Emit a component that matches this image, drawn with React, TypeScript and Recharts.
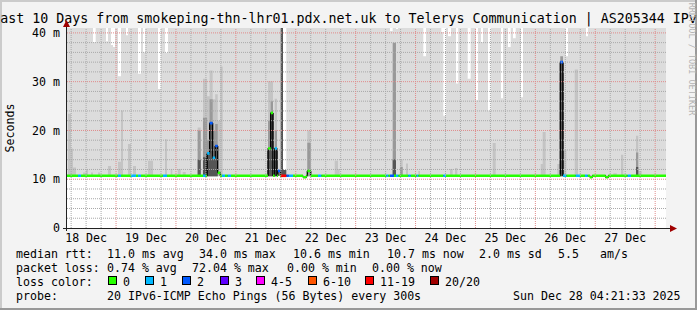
import React from "react";
import { ComposedChart, Area, XAxis, YAxis, CartesianGrid, ReferenceLine } from "recharts";

const FONT = "'DejaVu Sans Mono', monospace";

// time in days since 18 Dec 00:00, graph covers 18 Dec 04:21 -> 28 Dec 04:21
const startDay = 0.181;
const endDay = 10.181;
const dayLabels = ["18 Dec", "19 Dec", "20 Dec", "21 Dec", "22 Dec", "23 Dec", "24 Dec", "25 Dec", "26 Dec", "27 Dec"];
const yTicks = [0, 10, 20, 30, 40];

const minRtt = 10.6;
const usualMedian = 10.7;
const offScale = 41; // max ping above the top of the graph

// [from, to, ms] : where the slowest ping stayed below the top
const maxPingDips: [number, number, number][] = [
  [0.615, 0.66, 38.1], [0.832, 0.865, 38.3], [0.916, 0.949, 37.5], [0.949, 0.982, 37.1],
  [1.032, 1.083, 31.1], [1.166, 1.199, 39.5], [1.366, 1.416, 31.6], [1.45, 1.488, 36.0],
  [1.7, 1.745, 28.5], [1.817, 1.867, 35.9], [3.787, 3.842, 11.9], [5.573, 5.618, 40.4],
  [5.673, 5.707, 40.8], [6.129, 6.174, 35.2], [6.43, 6.463, 40.2], [6.463, 6.508, 23.0],
  [6.542, 6.592, 39.3], [6.675, 6.713, 29.6], [6.87, 6.92, 30.6], [7.009, 7.042, 26.2],
  [7.092, 7.126, 38.1], [7.209, 7.254, 24.1], [7.426, 7.46, 26.6], [7.543, 7.588, 37.1],
  [7.627, 7.672, 38.9], [7.76, 7.794, 26.8], [8.506, 8.545, 35.2], [8.845, 8.878, 39.3],
];

// smoke bands, [from, to, ms]
const smokeMid: [number, number, number][] = [
  [0.198, 0.248, 23.4], [0.248, 0.281, 16.3], [0.281, 0.331, 12.4], [0.448, 0.498, 11.4],
  [0.498, 0.532, 12.0], [0.582, 0.615, 11.4], [0.699, 0.732, 11.4], [0.865, 0.916, 12.7],
  [1.032, 1.083, 13.6], [1.083, 1.116, 24.1], [1.199, 1.249, 17.2], [1.283, 1.333, 12.7],
  [1.533, 1.617, 13.8], [1.817, 1.85, 18.2], [1.912, 1.939, 12.1], [2.029, 2.079, 12.1],
  [2.112, 2.163, 11.5], [2.363, 2.413, 20.6], [2.451, 2.52, 30.6], [2.52, 2.562, 27.0],
  [2.562, 2.613, 32.3], [2.613, 2.655, 26.4], [2.655, 2.697, 27.4], [2.697, 2.74, 22.0],
  [2.74, 2.78, 33.1], [3.537, 3.62, 30.1], [3.648, 3.687, 26.5], [4.193, 4.25, 20.0],
  [4.65, 4.705, 13.8], [4.705, 4.734, 12.1], [5.74, 5.785, 14.1], [5.84, 5.874, 13.2],
  [6.046, 6.074, 11.7], [6.575, 6.62, 12.1], [6.658, 6.697, 12.3], [7.288, 7.338, 17.4],
  [8.089, 8.122, 13.1], [8.122, 8.172, 19.7], [8.366, 8.416, 13.1], [8.461, 8.517, 16.1],
  [8.657, 8.712, 32.5], [9.301, 9.358, 11.2], [9.43, 9.468, 15.0], [9.68, 9.718, 18.9],
  [9.718, 9.775, 11.7],
];

const smokeDark: [number, number, number][] = [
  [2.363, 2.413, 20.0], [2.451, 2.52, 22.6], [2.52, 2.562, 18.0], [2.562, 2.613, 26.4],
  [2.613, 2.655, 20.0], [2.655, 2.697, 21.3], [3.537, 3.582, 22.0], [3.582, 3.62, 26.0],
  [3.648, 3.687, 20.0], [4.193, 4.25, 17.5], [5.618, 5.673, 38.0], [5.74, 5.785, 12.5],
  [8.416, 8.461, 35.2], [9.68, 9.718, 15.5],
];

const smokeDeep: [number, number, number][] = [
  [2.363, 2.413, 14.0], [2.451, 2.52, 14.5], [2.52, 2.562, 15.3], [2.562, 2.613, 21.5],
  [2.613, 2.655, 14.4], [2.655, 2.697, 16.8], [3.537, 3.582, 16.3], [3.582, 3.62, 23.6],
  [3.648, 3.687, 16.3], [3.749, 3.787, 41], [3.787, 3.842, 11.9], [5.618, 5.673, 14.1],
  [8.416, 8.461, 34.0], [9.68, 9.718, 12.5],
];

// median rtt where it left the usual 10.7 ms
const medianSteps: [number, number, number][] = [
  [2.52, 2.562, 15.3], [2.562, 2.613, 21.5], [2.613, 2.655, 14.4], [2.655, 2.697, 16.8],
  [2.697, 2.74, 11.3], [3.537, 3.582, 16.3], [3.582, 3.62, 23.6], [3.648, 3.687, 16.3],
  [3.703, 3.741, 11.7], [4.121, 4.176, 10.4], [4.193, 4.25, 11.7], [8.416, 8.461, 34.0],
  [8.912, 8.95, 10.4], [9.174, 9.218, 10.4],
];

// lost pings out of 20
const lossSpans: [number, number, number][] = [
  [0.365, 0.415, 1], [1.032, 1.083, 1], [1.249, 1.333, 1], [1.366, 1.416, 1],
  [1.784, 1.85, 1], [2.451, 2.496, 1], [2.52, 2.562, 1], [2.562, 2.613, 2],
  [2.613, 2.655, 1], [2.655, 2.697, 2], [2.769, 2.819, 1], [2.864, 2.919, 1],
  [3.648, 3.687, 1], [3.703, 3.741, 2], [3.749, 3.842, 15], [3.842, 3.882, 2],
  [3.882, 3.954, 1], [4.371, 4.426, 1], [5.512, 5.545, 1], [5.573, 5.64, 2],
  [5.673, 5.712, 1], [5.879, 5.919, 1], [6.019, 6.046, 1], [6.463, 6.508, 1],
  [8.416, 8.461, 2], [8.461, 8.517, 1], [8.675, 8.745, 1], [8.828, 8.873, 1],
  [9.541, 9.596, 1],
];

const lossBuckets = [
  { key: "l0", label: "0", upTo: 0, color: "#26ff00" },
  { key: "l1", label: "1", upTo: 1, color: "#00b8ff" },
  { key: "l2", label: "2", upTo: 2, color: "#0059ff" },
  { key: "l3", label: "3", upTo: 3, color: "#5e00ff" },
  { key: "l5", label: "4-5", upTo: 5, color: "#ff00ff" },
  { key: "l10", label: "6-10", upTo: 10, color: "#ff5500" },
  { key: "l19", label: "11-19", upTo: 19, color: "#ff0000" },
  { key: "l20", label: "20/20", upTo: 20, color: "#a10000" },
];

const medianStats = ["11.0 ms avg", "34.0 ms max", "10.6 ms min", "10.7 ms now", "2.0 ms sd", "5.5", "am/s"];
const lossStats = ["0.74 % avg", "72.04 % max", "0.00 % min", "0.00 % now"];

const bandHalf = 0.27;

const valueAt = (spans: [number, number, number][], t: number) => {
  for (const s of spans) if (t >= s[0] && t < s[1]) return s[2];
  return null;
};

const buildRows = () => {
  const all = [maxPingDips, smokeMid, smokeDark, smokeDeep, medianSteps, lossSpans];
  const cuts = new Set<number>([startDay, endDay]);
  all.forEach((list) => list.forEach(([a, b]) => { cuts.add(a); cuts.add(b); }));
  const sorted = [...cuts].filter((c) => c >= startDay && c <= endDay).sort((a, b) => a - b);
  const rows: any[] = [];
  for (let i = 0; i < sorted.length - 1; i++) {
    const a = sorted[i];
    const b = sorted[i + 1];
    const mid = (a + b) / 2;
    const top = valueAt(maxPingDips, mid) ?? offScale;
    const med = valueAt(medianSteps, mid) ?? usualMedian;
    const loss = valueAt(lossSpans, mid) ?? 0;
    const mz = valueAt(smokeMid, mid);
    const dk = valueAt(smokeDark, mid);
    const dp = valueAt(smokeDeep, mid);
    const bucket = lossBuckets.find((l) => loss <= l.upTo)!;
    const rec: any = {
      light: [minRtt, top],
      mid: mz == null ? null : [minRtt, mz],
      dark: dk == null ? null : [minRtt, dk],
      deep: dp == null ? null : [minRtt, dp],
      med: [med, med],
    };
    lossBuckets.forEach((l) => {
      rec[l.key] = l.key === bucket.key ? [med - bandHalf, med + bandHalf] : null;
    });
    rows.push({ t: a, ...rec }, { t: b, ...rec });
  }
  return rows;
};

const rows = buildRows();

const minorX: number[] = [];
const majorX: number[] = [];
for (let q = 1; q <= 40; q++) {
  const d = q / 4;
  if (d > endDay) break;
  if (q % 4 === 0) majorX.push(d);
  else minorX.push(d);
}
const minorY: number[] = [];
const majorY: number[] = [];
for (let v = 2; v <= 40; v += 2) {
  if (v % 10 === 0) majorY.push(v);
  else minorY.push(v);
}

const Txt = ({ x, y, children, size = 11.6, anchor = "start", fill = "#000" }: any) => (
  <text x={x} y={y} fontFamily={FONT} fontSize={size} fill={fill} textAnchor={anchor} xmlSpace="preserve">
    {children}
  </text>
);

const statX1 = [107, 199, 293, 387, 479, 558, 600];
const statX2 = [107, 192, 287, 372];
const boxX = [108, 145, 182, 220, 256, 308, 365, 430];

const App = () => {
  const rowY = [258, 272, 286, 300];
  return (
    <div style={{ position: "absolute", left: 0, top: 0, width: 697, height: 310, background: "#f3f3f3" }}>
      <ComposedChart width={697} height={310} data={rows} margin={{ top: 28, right: 31, bottom: 0, left: 0 }}>
        <CartesianGrid horizontal={false} vertical={false} fill="#ffffff" />
        <XAxis
          type="number"
          dataKey="t"
          domain={[startDay, endDay]}
          allowDataOverflow
          ticks={dayLabels.map((_, i) => i + 0.5)}
          tickFormatter={(v: number) => dayLabels[Math.floor(v)] ?? ""}
          height={82}
          axisLine={false}
          tickLine={false}
          tickSize={0}
          tickMargin={6}
          interval={0}
          tick={{ fontFamily: FONT, fontSize: 11.6, fill: "#000" }}
        />
        <YAxis
          domain={[0, 41]}
          allowDataOverflow
          ticks={yTicks}
          tickFormatter={(v: number) => (v === 0 ? "0" : `${v} m`)}
          width={67}
          axisLine={false}
          tickLine={false}
          tickSize={0}
          tickMargin={7}
          interval={0}
          tick={{ fontFamily: FONT, fontSize: 11.6, fill: "#000" }}
        />
        <Area dataKey="light" type="stepAfter" fill="#dcdcdc" fillOpacity={1} stroke="none" isAnimationActive={false} dot={false} activeDot={false} />
        <Area dataKey="mid" type="stepAfter" fill="#c4c4c4" fillOpacity={1} stroke="none" isAnimationActive={false} dot={false} activeDot={false} />
        <Area dataKey="dark" type="stepAfter" fill="#999999" fillOpacity={1} stroke="none" isAnimationActive={false} dot={false} activeDot={false} />
        <Area dataKey="deep" type="stepAfter" fill="#555555" fillOpacity={1} stroke="none" isAnimationActive={false} dot={false} activeDot={false} />
        {minorX.map((d) => (
          <ReferenceLine key={`mx${d}`} x={d} stroke="#a8a8a8" strokeDasharray="1 1" ifOverflow="hidden" />
        ))}
        {minorY.map((v) => (
          <ReferenceLine key={`my${v}`} y={v} stroke="#a8a8a8" strokeDasharray="1 1" ifOverflow="hidden" />
        ))}
        {majorX.map((d) => (
          <ReferenceLine key={`Mx${d}`} x={d} stroke="#e08a8a" strokeDasharray="1 1" ifOverflow="hidden" />
        ))}
        {majorY.map((v) => (
          <ReferenceLine key={`My${v}`} y={v} stroke="#e08a8a" strokeDasharray="1 1" ifOverflow="hidden" />
        ))}
        <Area dataKey="med" type="stepAfter" fill="none" stroke="#000" strokeWidth={1} isAnimationActive={false} dot={false} activeDot={false} />
        {lossBuckets.map((l) => (
          <Area key={l.key} dataKey={l.key} type="stepAfter" fill={l.color} fillOpacity={1} stroke="none" isAnimationActive={false} dot={false} activeDot={false} />
        ))}
      </ComposedChart>
      <svg width={697} height={310} style={{ position: "absolute", left: 0, top: 0, pointerEvents: "none" }}>
        <rect x={0} y={0} width={697} height={2} fill="#cbcbcb" />
        <rect x={0} y={0} width={2} height={310} fill="#cbcbcb" />
        <rect x={695} y={0} width={2} height={310} fill="#999" />
        <rect x={0} y={308} width={697} height={2} fill="#999" />
        <Txt x={348.5} y={23} size={13.3} anchor="middle">
          Last 10 Days from smokeping-thn-lhr01.pdx.net.uk to Telerys Communication | AS205344 IPv6
        </Txt>
        <text x={0} y={0} transform="translate(689,59) rotate(90)" fontFamily={FONT} fontSize={8.5} fill="#b4b4b4" textAnchor="middle">
          RRDTOOL / TOBI OETIKER
        </text>
        <text x={0} y={0} transform="translate(14,128) rotate(-90)" fontFamily={FONT} fontSize={11.6} fill="#000" textAnchor="middle">
          Seconds
        </text>
        <line x1={63} y1={228.5} x2={671} y2={228.5} stroke="#222" strokeWidth={1} />
        <line x1={66.5} y1={231} x2={66.5} y2={24} stroke="#222" strokeWidth={1} />
        <polygon points="670,225 677,228.5 670,232" fill="#a00000" />
        <polygon points="63,27 66.5,20 70,27" fill="#a00000" />
        <Txt x={16} y={rowY[0]}>median rtt:</Txt>
        {medianStats.map((s, i) => (
          <Txt key={s} x={statX1[i]} y={rowY[0]}>{s}</Txt>
        ))}
        <Txt x={16} y={rowY[1]}>packet loss:</Txt>
        {lossStats.map((s, i) => (
          <Txt key={s + i} x={statX2[i]} y={rowY[1]}>{s}</Txt>
        ))}
        <Txt x={16} y={rowY[2]}>loss color:</Txt>
        {lossBuckets.map((l, i) => (
          <g key={l.key}>
            <rect x={boxX[i] + 0.5} y={rowY[2] - 9.5} width={8} height={8} fill={l.color} stroke="#000" strokeWidth={1} />
            <Txt x={boxX[i] + 15} y={rowY[2]}>{l.label}</Txt>
          </g>
        ))}
        <Txt x={16} y={rowY[3]}>probe:</Txt>
        <Txt x={107} y={rowY[3]}>20 IPv6-ICMP Echo Pings (56 Bytes) every 300s</Txt>
        <Txt x={513} y={rowY[3]}>Sun Dec 28 04:21:33 2025</Txt>
      </svg>
    </div>
  );
};

export default App;
